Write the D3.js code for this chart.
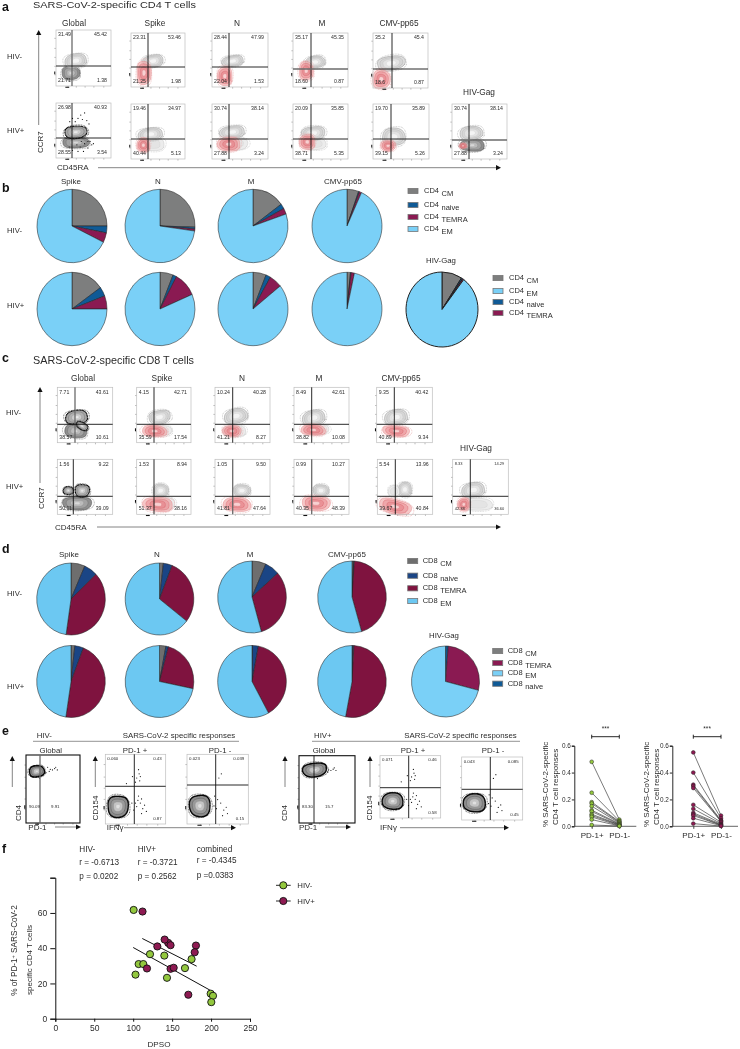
<!DOCTYPE html>
<html>
<head>
<meta charset="utf-8">
<script src="https://cdn.jsdelivr.net/npm/d3@7/dist/d3.min.js"></script>
<style>
html,body{margin:0;padding:0;background:#fff}
svg{display:block;filter:blur(0.3px);background:#fff}
text{font-family:"Liberation Sans",Arial,sans-serif;fill:#2b2b2b}
</style>
</head>
<body>
<svg id="fig" width="740" height="1049" viewBox="0 0 740 1049"></svg>
<script>
// ---------- DATA ----------
const antigens = ["Global","Spike","N","M","CMV-pp65","HIV-Gag"];
const subsetKeys = ["CM","naive","TEMRA","EM"];

// pie percentages, clockwise from 12 o'clock, in subsetKeys order
const pieCD4Neg = [[25.0,3.0,4.3,67.7],[25.5,0.8,0.9,72.8],[14.9,2.2,2.6,80.3],[5.4,0.4,1.0,93.2]];
const pieCD4Pos = [[15.1,4.1,5.8,75.0],[6.1,1.7,10.7,81.5],[6.1,2.2,5.9,85.8],[1.6,0.3,1.5,96.6],[9.1,0.6,0.6,89.7]];
const pieCD8Neg = [[6.6,6.4,39.3,47.7],[1.8,4.2,29.5,64.5],[6.6,6.9,32.1,54.4],[0.8,0.3,44.4,54.5]];
const pieCD8Pos = [[1.8,4.1,46.5,47.6],[3.0,1.2,24.0,71.8],[0.2,2.8,39.0,58.0],[0.3,0.6,52.1,47.0],[0.1,1.2,27.7,71.0]];

// flow quadrant percentages: UL, UR, LL, LR
const quadCD4Neg = [["31.49","45.42","21.71","1.38"],["23.31","53.46","21.25","1.98"],["28.44","47.99","22.04","1.53"],["35.17","45.35","18.60","0.87"],["35.2","45.4","18.6","0.87"]];
const quadCD4Pos = [["26.98","40.93","28.55","3.54"],["19.46","34.97","40.44","5.13"],["30.74","38.14","27.88","3.24"],["20.09","35.85","38.71","5.35"],["19.70","35.89","39.15","5.26"],["30.74","38.14","27.88","3.24"]];
const quadCD8Neg = [["7.71","43.61","38.57","10.61"],["4.15","42.71","35.59","17.54"],["10.24","40.28","41.21","8.27"],["8.49","42.61","38.82","10.08"],["9.35","40.42","40.89","9.34"]];
const quadCD8Pos = [["1.56","9.22","50.11","39.09"],["1.53","8.94","51.37","38.16"],["1.05","9.50","41.81","47.64"],["0.99","10.27","40.35","48.39"],["5.54","13.96","39.67","40.84"],["8.33","14.29","42.38","36.60"]];
const quadPD1 = [["","","90.09","9.91"],["0.060","0.43","","0.87"],["0.023","0.039","","0.15"],["","","83.30","15.7"],["0.071","0.46","","0.58"],["0.043","0.085","","0.45"]];

// flow populations in percent-of-axis units: [kind, cx, cy, rx, ry, tilt]
const blobsCD4Neg = [
 [["d",27,23,16,12,0],["g",36,45,20,12,-8]],
 [["g",41,48,19,11,-8],["r",24,26,13,22,0]],
 [["g",37,48,19,10,-8],["r",23,20,13,18,0]],
 [["g",40,46,18,11,-8],["r",24,30,13,17,0]],
 [["g",33,45,25,13,-10],["r",15,16,16,17,0]]];
const blobsCD4Pos = [
 [["d",36,28,24,10,0],["k",36,47,20,11,-6]],
 [["l",40,27,22,12,0],["g",36,45,23,11,-6],["r",23,25,12,13,0]],
 [["l",42,28,22,11,0],["g",36,49,22,11,-6],["r",30,27,20,13,0]],
 [["l",40,28,20,11,0],["g",37,47,21,12,-6],["r",26,31,14,14,0]],
 [["g",37,40,20,16,-6],["r",27,24,13,10,0]],
 [["d",37,25,22,11,0],["g",35,47,21,12,-6],["r",20,24,7,5,0]]];
const blobsCD8Neg = [
 [["d",33,21,20,12,8],["k",35,46,20,12,-6],["k",45,30,11,6,30]],
 [["l",42,22,22,10,0],["g",42,46,20,12,-10],["r",33,21,23,10,4]],
 [["l",36,21,20,10,0],["g",38,48,21,13,-10],["r",31,21,17,10,4]],
 [["l",42,24,22,9,0],["g",36,45,21,13,-10],["r",35,23,22,10,4]],
 [["g",35,46,21,13,-8],["r",35,21,24,10,4]]];
const blobsCD8Pos = [
 [["d",36,20,26,12,0],["k",45,43,13,11,0],["k",20,43,9,7,0]],
 [["g",44,43,14,12,0],["l",50,20,20,11,0],["r",39,18,27,13,4]],
 [["g",49,43,15,11,0],["r",40,18,25,13,4]],
 [["g",49,43,14,11,0],["r",40,20,26,13,4]],
 [["g",50,45,12,13,0],["l",30,42,10,10,0],["r",32,14,30,13,14]],
 [["g",37,44,21,13,-8],["l",45,18,26,11,0],["r",20,18,11,12,0]]];
const blobsPD1 = [
 [["c",20,76,14,8,-6]],
 [["c",21,25,17,15,0]],
 [["c",21,26,17,15,0]],
 [["c",28,79,21,10,-6]],
 [["c",21,27,17,13,0]],
 [["c",21,27,18,14,0]]];
// event dots outside the contours, percent-of-axis units
const dotsPD1Pos = [[55,78],[56,72],[52,66],[58,68],[50,60],[57,62],[45,68],[35,58],[62,22],[58,30],[54,34],[60,15],[65,27],[55,40],[68,18],[52,25],[47,20],[50,30],[44,30],[60,36]];
const dotsPD1Neg = [[52,66],[56,72],[55,30],[60,20],[64,24],[66,15],[50,35],[45,40],[58,12],[48,22],[44,26]];
const dotsGlobal = [[45,76],[50,73],[54,72],[58,74],[48,70],[42,68],[30,60],[32,63],[36,64],[60,76],[63,72]];
const dotsHivGlobal = [[35,66],[40,72],[45,78],[52,82],[48,70],[56,68],[60,62],[25,66],[30,72],[62,30],[65,24],[58,18],[50,12],[40,12],[30,14],[44,20],[52,26],[58,30],[46,30],[38,24],[24,20],[68,26]];

// paired PD-1 plots (% of SARS-CoV-2-specific CD4 T cell responses)
const pairNegPlus  = [0.48,0.25,0.18,0.17,0.15,0.12,0.11,0.09,0.08,0.07,0.05,0.01];
const pairNegMinus = [0.05,0.04,0.035,0.03,0.025,0.02,0.015,0.012,0.01,0.005,0.003,0.002];
const pairPosPlus  = [0.55,0.40,0.31,0.30,0.285,0.16,0.13,0.10,0.09,0.08,0.06,0.02];
const pairPosMinus = [0.08,0.06,0.045,0.04,0.035,0.03,0.02,0.015,0.01,0.008,0.005,0.002];
const pairLabels = ["PD-1+","PD-1-"];
const pairTicks = [0,0.2,0.4,0.6];

// panel f scatter
const dpsoNeg = [100.6,121.6,140,107,113,103,143.4,166.5,175,199.5,202.5,200.3];
const pd1Neg  = [61.7,36.6,35.8,31,31,25,23.2,28.7,33.8,14.2,13,9.4];
const dpsoPos = [112,145,140.4,148,131,180.6,179,117.7,148,152,170.8];
const pd1Pos  = [60.8,43,44.9,41.7,41,41.5,37.7,28.5,28.3,28.9,13.6];
const fitNeg = [[100,40.4],[198.6,16.2]];
const fitPos = [[111.7,45.5],[181.5,29.8]];
const xTicksF = [0,50,100,150,200,250];
const yTicksF = [0,20,40,60,80];
const statsF = [["HIV-","r = -0.6713","p = 0.0202"],["HIV+","r = -0.3721","p = 0.2562"],["combined","r = -0.4345","p =0.0383"]];

// ---------- LAYOUT ----------
const framesCD4Neg = [[56,111,30,86,72,66,"v"],[131,185,33,87,148,67,""],[212,268,33,87,229,67,""],[293,348,33,87,311,69,"h"],[373,428,33,88,392,69,""]];
const framesCD4Pos = [[56,111,103,158,72,138,""],[131,185,104,159,148,139,""],[212,268,104,159,229,139,""],[293,348,104,159,311,139,""],[373,429,104,159,391,139,""],[452,507,104,159,469,140,"h"]];
const framesCD8Neg = [[57.3,112.7,387.3,442.7,75,424.3,"v"],[136.7,191,387.3,442.7,154,424.3,""],[215,270,387.3,442.7,232.7,424.3,""],[294,349,387.3,442.7,311.7,424.3,""],[376.7,432.3,387.3,442.7,394.3,424.3,""]];
const framesCD8Pos = [[57.3,112.7,459.3,514.3,73.3,496.3,""],[136.7,191,459.3,514.3,154,496.3,""],[215,270,459.3,514.3,232.7,496.3,"v"],[294,349,459.3,514.3,311.7,496.3,"v"],[377.3,432.7,459.3,514.3,395.3,496.3,""],[452.7,508.3,459.3,514.3,470.3,496.3,""]];
const framesPD1 = [[26,80,755,823,40,null,"v"],[105.3,165.7,754.3,824,134.3,786.3,""],[187,248.3,754.3,824,215.7,785,""],[299,355,755.7,823,314,null,""],[380,440.7,755.7,818,408.7,787.7,""],[461.7,522.7,757,820,490.3,789.3,""]];
const tickFrac = [21,36,52,68,86];
const wobble = [1,.98,1.03,1.04,1,.97,.98,1.02,1.05,1.01,.97,.96,1.01,1.03];

const pieColorsA = {CM:"#7d7e7e",naive:"#0f5a96",TEMRA:"#8a1a52",EM:"#7ad0f7"};
const pieColorsB = {CM:"#6e6e6e",naive:"#1a4585",TEMRA:"#7f133f",EM:"#6cc8f2"};

const svg = d3.select("#fig");

function label(x,y,s,o={}){
  const t = svg.append("text").attr("x",x).attr("y",y).text(s)
    .attr("font-size",o.size||8).attr("text-anchor",o.anchor||"start");
  if(o.bold) t.attr("font-weight","bold").style("fill","#111");
  if(o.rot) t.attr("transform",`rotate(-90 ${x} ${y})`);
  return t;
}
function arrow(x1,y1,x2,y2,w){
  const g = svg.append("g");
  const a = Math.atan2(y2-y1,x2-x1), L=5, W=2.6;
  g.append("line").attr("x1",x1).attr("y1",y1).attr("x2",x2-L*Math.cos(a)).attr("y2",y2-L*Math.sin(a))
    .attr("stroke","#666").attr("stroke-width",w||1);
  const pts=[[x2,y2],[x2-L*Math.cos(a)+W*Math.sin(a),y2-L*Math.sin(a)-W*Math.cos(a)],[x2-L*Math.cos(a)-W*Math.sin(a),y2-L*Math.sin(a)+W*Math.cos(a)]];
  g.append("polygon").attr("points",pts.map(p=>p.join(",")).join(" ")).attr("fill","#111");
}

// ---------- FLOW PLOTS ----------
const contour = d3.line().curve(d3.curveCatmullRomClosed);
function outline(RX,RY,s,off){
  return contour(wobble.map((_,i)=>{
    const a=i/wobble.length*2*Math.PI, m=wobble[(i+off)%wobble.length];
    // superellipse-like rounding: contours are squarer than true ellipses
    const c=Math.cos(a),sn=Math.sin(a);
    const ex=Math.sign(c)*Math.pow(Math.abs(c),.8), ey=Math.sign(sn)*Math.pow(Math.abs(sn),.8);
    return [RX*s*m*ex,RY*s*m*ey];
  }));
}
const ringSets={
  g:{halo:"#b5b5b5",rings:[[1,"#dedede","#969696",.5],[.82,"#d6d6d6","#a8a8a8",.35],[.6,"#e3e3e3","#bdbdbd",.3],[.35,"#f4f4f4","#d0d0d0",.3]]},
  l:{halo:"#c9c9c9",rings:[[1,"#ececec","#bcbcbc",.4],[.65,"#e4e4e4","#cccccc",.3]]},
  d:{halo:"#808080",rings:[[1,"#8f8f8f","#505050",.55],[.75,"#a2a2a2","#6a6a6a",.4],[.45,"#bcbcbc","#8a8a8a",.35],[.2,"#d8d8d8","#aaa",.3]]},
  r:{halo:"#eab4b4",rings:[[1,"rgba(240,170,170,.66)","rgba(222,115,120,.8)",.45],[.78,"rgba(234,140,145,.55)","rgba(214,90,98,.85)",.4],[.52,"rgba(230,130,135,.55)","#d5636a",.4],[.26,"rgba(250,220,220,.85)","#d9787d",.35]]},
  k:{halo:"#333",rings:[[1,"#a6a6a6","#0c0c0c",1.3,".1 1.4"],[.74,"#b0b0b0","#6a6a6a",.4],[.45,"#cfcfcf","#969696",.35],[.22,"#e8e8e8","#b0b0b0",.3]]},
  c:{halo:"#222",rings:[[1,"#8c8c8c","#060606",1.6,".1 1.1"],[.72,"#9a9a9a","#555",.45],[.45,"#c4c4c4","#888",.35],[.2,"#e0e0e0","#aaa",.3]]}
};
function drawBlob(g,b,x,y){
  const [kind,cx,cy,rx,ry,tilt]=b;
  const X=x(cx),Y=y(cy),RX=x(rx)-x(0),RY=y(0)-y(ry);
  const off=Math.round(cx+cy)%wobble.length, set=ringSets[kind];
  const n=g.append("g").attr("transform",`translate(${X},${Y}) rotate(${tilt})`);
  n.append("path").attr("d",outline(RX,RY,1.14,(off+3)%wobble.length)).attr("fill","none")
    .attr("stroke",set.halo).attr("stroke-width",.7).attr("stroke-linecap","round").attr("stroke-dasharray",".1 1.5");
  n.selectAll("path.ring").data(set.rings).join("path").attr("class","ring")
    .attr("d",r=>outline(RX,RY,r[0],off))
    .attr("fill",r=>r[1]).attr("stroke",r=>r[2]).attr("stroke-width",r=>r[3])
    .attr("stroke-linecap","round").attr("stroke-dasharray",r=>r[4]||null);
}
function drawFlow(fr,quad,blobs,opt={}){
  const [x0,x1,y0,y1,vx,hy,grey]=fr;
  const x=d3.scaleLinear().domain([0,100]).range([x0,x1]);
  const y=d3.scaleLinear().domain([0,100]).range([y1,y0]);
  const g=svg.append("g");
  blobs.forEach(b=>drawBlob(g,b,x,y));
  (opt.dots||[]).forEach(d=>g.append("circle").attr("cx",x(d[0])).attr("cy",y(d[1])).attr("r",.6).attr("fill",opt.dotColor||"#111"));
  // axis ticks
  const ax=g.append("g").attr("transform",`translate(0,${y1})`).call(d3.axisBottom(x).tickValues(tickFrac).tickSize(1.6).tickFormat(""));
  const ay=g.append("g").attr("transform",`translate(${x0},0)`).call(d3.axisLeft(y).tickValues(tickFrac).tickSize(1.6).tickFormat(""));
  [ax,ay].forEach(a=>{a.select(".domain").remove();a.selectAll("line").attr("stroke","#777").attr("stroke-width",.5);});
  g.append("line").attr("x1",x(17)).attr("x2",x(24)).attr("y1",y1+1.2).attr("y2",y1+1.2).attr("stroke","#111").attr("stroke-width",1.1);
  g.append("line").attr("x1",x0-1.2).attr("x2",x0-1.2).attr("y1",y(21)).attr("y2",y(26)).attr("stroke","#111").attr("stroke-width",1.1);
  // frame + gates
  g.append("rect").attr("x",x0).attr("y",y0).attr("width",x1-x0).attr("height",y1-y0).attr("fill","none")
    .attr("stroke",opt.heavy?"#111":"#bdbdbd").attr("stroke-width",opt.heavy?1.1:.7);
  g.append("line").attr("x1",vx).attr("x2",vx).attr("y1",y0).attr("y2",y1).attr("stroke",grey==="v"?"#6b6b6b":"#111").attr("stroke-width",grey==="v"?1.3:.9);
  if(hy!==null) g.append("line").attr("x1",x0).attr("x2",x1).attr("y1",hy).attr("y2",hy).attr("stroke",grey==="h"?"#6b6b6b":"#111").attr("stroke-width",grey==="h"?1.3:.9);
  // labels
  const fs=opt.fs||5.2;
  const top=y0+fs+1.2, bot=y1-4.2;
  if(opt.midLabels){
    const ly=y0+(y1-y0)*.78;
    label(x0+3,ly,quad[2],{size:fs});
    label(vx+11,ly,quad[3],{size:fs});
    return;
  }
  label(x0+2,top,quad[0],{size:fs});
  label(x1-4,top,quad[1],{size:fs,anchor:"end"});
  if(quad[2]) label(x0+2,bot,quad[2],{size:fs});
  label(x1-4,bot,quad[3],{size:fs,anchor:"end"});
}

// ---------- PIES ----------
function drawPie(cx,cy,rx,ry,vals,colors,sw){
  const arc=d3.arc().innerRadius(0).outerRadius(rx);
  const pie=d3.pie().sort(null).value(d=>d)(vals);
  svg.append("g").attr("transform",`translate(${cx},${cy}) scale(1,${ry/rx})`)
    .selectAll("path").data(pie).join("path")
    .attr("d",arc).attr("fill",(d,i)=>colors[subsetKeys[i]])
    .attr("stroke","#222").attr("stroke-width",sw||.55).attr("vector-effect","non-scaling-stroke");
}
function legend(entries,sx,tx,ys,prefix,colors){
  entries.forEach((k,i)=>{
    svg.append("rect").attr("x",sx).attr("y",ys[i]-2.6).attr("width",10).attr("height",5.2)
      .attr("fill",colors[k]).attr("stroke","#777").attr("stroke-width",.8);
    const t=label(tx,ys[i]+1.8,prefix,{size:7.5});
    t.append("tspan").attr("dx",2.5).attr("dy",3).text(k);
  });
}

// --------- Panel letters / titles ----------
[["a",11.2],["b",192],["c",362],["d",553],["e",735],["f",853]].forEach(([s,y])=>label(2,y,s,{size:12.4,bold:true}));
label(33,7.8,"SARS-CoV-2-specific CD4 T cells",{size:9.9}).attr("textLength",163).attr("lengthAdjust","spacingAndGlyphs");
label(33,364,"SARS-CoV-2-specific CD8 T cells",{size:10.8});

// ---------- Panel a ----------
const hdrX_a=[74,155,237,322,399];
hdrX_a.forEach((x,i)=>label(x,26,antigens[i],{size:8.3,anchor:"middle"}));
label(479,95,antigens[5],{size:8.3,anchor:"middle"});
label(7,59,"HIV-",{size:7.7});label(7,133,"HIV+",{size:7.7});
framesCD4Neg.forEach((f,i)=>drawFlow(f,quadCD4Neg[i],blobsCD4Neg[i]));
framesCD4Pos.forEach((f,i)=>drawFlow(f,quadCD4Pos[i],blobsCD4Pos[i],i===0?{dots:dotsHivGlobal}:{}));
arrow(38.7,125,38.7,30,.8);
label(42.5,153,"CCR7",{size:8,rot:true});
label(57,170,"CD45RA",{size:8});
arrow(98,167.7,501,167.7,.8);

// ---------- Panel b ----------
[[71,"Spike"],[158,"N"],[251,"M"],[343,"CMV-pp65"]].forEach(([x,s])=>label(x,184,s,{size:8,anchor:"middle"}));
label(7,233,"HIV-",{size:7.7});label(7,308,"HIV+",{size:7.7});
const pieX_b=[72,160,253,347];
pieCD4Neg.forEach((v,i)=>drawPie(pieX_b[i],226,35,36.7,v,pieColorsA));
pieCD4Pos.slice(0,4).forEach((v,i)=>drawPie(pieX_b[i],309,35,36.7,v,pieColorsA));
drawPie(442,309.5,36,37.5,pieCD4Pos[4],pieColorsA,1);
label(441,263,"HIV-Gag",{size:7.8,anchor:"middle"});
legend(["CM","naive","TEMRA","EM"],408,424,[191,205,217,229],"CD4",pieColorsA);
legend(["CM","EM","naive","TEMRA"],493,509,[278,291,302,313],"CD4",pieColorsA);

// ---------- Panel c ----------
[83,162,242,319,401].forEach((x,i)=>label(x,381,antigens[i],{size:8.3,anchor:"middle"}));
label(476,451,antigens[5],{size:8.3,anchor:"middle"});
label(6,415,"HIV-",{size:7.7});label(6,489,"HIV+",{size:7.7});
framesCD8Neg.forEach((f,i)=>drawFlow(f,quadCD8Neg[i],blobsCD8Neg[i]));
framesCD8Pos.forEach((f,i)=>drawFlow(f,quadCD8Pos[i],blobsCD8Pos[i],i===5?{fs:4}:{}));
arrow(40,483,40,387,.8);
label(44,509,"CCR7",{size:8,rot:true});
label(55,530,"CD45RA",{size:8});
arrow(97,527,501,527,.8);

// ---------- Panel d ----------
[[69,"Spike"],[157,"N"],[250,"M"],[347,"CMV-pp65"]].forEach(([x,s])=>label(x,557,s,{size:8,anchor:"middle"}));
label(7,596,"HIV-",{size:7.7});label(7,689,"HIV+",{size:7.7});
const pieX_d=[71,159.5,252,352];
const pieY_d=[599,599,597,597];
pieCD8Neg.forEach((v,i)=>drawPie(pieX_d[i],pieY_d[i],34.3,36,v,pieColorsB));
pieCD8Pos.slice(0,4).forEach((v,i)=>drawPie(pieX_d[i],681.5,34.3,36,v,pieColorsB));
drawPie(445.5,681.5,34,35.5,pieCD8Pos[4],pieColorsA);
label(444,638,"HIV-Gag",{size:7.8,anchor:"middle"});
legend(["CM","naive","TEMRA","EM"],407.7,422.7,[561,575.7,588.3,601],"CD8",pieColorsB);
legend(["CM","TEMRA","EM","naive"],492.7,507.7,[651,663,673.3,683.7],"CD8",pieColorsA);

// ---------- Panel e: flow ----------
label(36.7,737.7,"HIV-",{size:7.8});
label(122.7,737.7,"SARS-CoV-2 specific responses",{size:7.85});
svg.append("line").attr("x1",33).attr("x2",239).attr("y1",741.3).attr("y2",741.3).attr("stroke","#666").attr("stroke-width",.7);
label(314,737.7,"HIV+",{size:7.8});
label(404.3,737.7,"SARS-CoV-2 specific responses",{size:7.85});
svg.append("line").attr("x1",312).attr("x2",520).attr("y1",741.3).attr("y2",741.3).attr("stroke","#666").attr("stroke-width",.7);
[[50.7,"Global"],[324,"Global"]].forEach(([x,s])=>label(x,753,s,{size:7.8,anchor:"middle"}));
[[135,"PD-1 +"],[220,"PD-1 -"],[413,"PD-1 +"],[493,"PD-1 -"]].forEach(([x,s])=>label(x,753,s,{size:7.8,anchor:"middle"}));
framesPD1.forEach((f,i)=>{
  const globalPlot=i===0||i===3;
  const opt=globalPlot?{heavy:true,midLabels:true,fs:4.4,dots:dotsGlobal.map(d=>[d[0]-5+(i===3?8:0),d[1]+6])}
                      :{fs:4.4,dots:(i===1||i===4)?dotsPD1Pos:dotsPD1Neg};
  drawFlow(f,quadPD1[i],blobsPD1[i],opt);
});
arrow(12.3,787,12.3,756,.8);
label(20.5,821,"CD4",{size:8,rot:true});
label(28.3,830,"PD-1",{size:8});
arrow(55,827,81,827,.8);
arrow(95.3,787,95.3,756,.8);
label(98,820.5,"CD154",{size:8,rot:true});
label(106.7,830,"IFNγ",{size:8});
arrow(124,827.7,236,827.7,.8);
arrow(285,787,285,756,.8);
label(287,821,"CD4",{size:8,rot:true});
label(299,830,"PD-1",{size:8});
arrow(325,827,351,827,.8);
arrow(370,787,370,756,.8);
label(372,820.5,"CD154",{size:8,rot:true});
label(380,830,"IFNγ",{size:8});
arrow(400,827.7,509,827.7,.8);

// ---------- Panel e: paired ----------
function drawPaired(axX,xA,xB,plus,minus,color,labX){
  const y=d3.scaleLinear().domain([0,0.6]).range([826.3,745.7]);
  const x=d3.scalePoint().domain(pairLabels).range([xA,xB]);
  const g=svg.append("g");
  const ya=g.append("g").attr("transform",`translate(${axX},0)`).call(d3.axisLeft(y).tickValues(pairTicks).tickSize(2.5).tickFormat(d3.format(".1f")));
  ya.selectAll("text").attr("font-size",6.4).attr("x",-3.5).style("font-family",'"Liberation Sans"');
  ya.selectAll("line,.domain").attr("stroke","#111").attr("stroke-width",.9);
  const xa=g.append("g").attr("transform","translate(0,826.3)").call(d3.axisBottom(x).tickSize(2.5));
  xa.select(".domain").attr("d",`M${axX},0H${xB+17}`).attr("stroke","#555").attr("stroke-width",.9);
  xa.selectAll("line").attr("stroke","#111").attr("stroke-width",.8);
  xa.selectAll("text").attr("font-size",8).attr("y",6.5).style("font-family",'"Liberation Sans"');
  plus.forEach((v,i)=>g.append("line").attr("x1",x(pairLabels[0])).attr("x2",x(pairLabels[1])).attr("y1",y(v)).attr("y2",y(minus[i])).attr("stroke","#222").attr("stroke-width",.6));
  [[pairLabels[0],plus],[pairLabels[1],minus]].forEach(([k,arr])=>
    g.selectAll(null).data(arr).join("circle").attr("cx",x(k)).attr("cy",d=>y(d)).attr("r",1.9)
      .attr("fill",color).attr("stroke","#222").attr("stroke-width",.5));
  g.append("path").attr("d",`M${xA},734.7V738.7M${xA},736.7H${xB}M${xB},734.7V738.7`).attr("fill","none").attr("stroke","#111").attr("stroke-width",.9);
  label((xA+xB)/2,731,"***",{size:6.5,anchor:"middle"});
  label(labX,827,"% SARS-CoV-2-specific",{size:8,rot:true});
  label(labX+10,825,"CD4 T cell responses",{size:8,rot:true});
}
drawPaired(574.3,591.7,619.3,pairNegPlus,pairNegMinus,"#93c83e",547.5);
drawPaired(672.3,693.3,721,pairPosPlus,pairPosMinus,"#8e1a52",649);

// ---------- Panel f ----------
const xF=d3.scaleLinear().domain([0,250]).range([55.3,250]);
const yF=d3.scaleLinear().domain([0,80]).range([1018.7,877.7]);
const gF=svg.append("g");
const xaF=gF.append("g").attr("transform","translate(0,1018.7)").call(d3.axisBottom(xF).tickValues(xTicksF).tickSize(3));
const yaF=gF.append("g").attr("transform","translate(55.3,0)").call(d3.axisLeft(yF).tickValues(yTicksF).tickSize(5).tickFormat(d=>d===80?"":d));
[xaF,yaF].forEach(a=>{a.selectAll("line,.domain").attr("stroke","#111").attr("stroke-width",1);a.selectAll("text").attr("font-size",8.5).style("font-family",'"Liberation Sans"');});
[fitNeg,fitPos].forEach(seg=>gF.append("path").attr("d",d3.line().x(d=>xF(d[0])).y(d=>yF(d[1]))(seg)).attr("stroke","#111").attr("stroke-width",1).attr("fill","none"));
gF.selectAll(".n").data(d3.zip(dpsoNeg,pd1Neg)).join("circle").attr("class","n").attr("cx",d=>xF(d[0])).attr("cy",d=>yF(d[1])).attr("r",3.6).attr("fill","#93c83e").attr("stroke","#111").attr("stroke-width",.9);
gF.selectAll(".p").data(d3.zip(dpsoPos,pd1Pos)).join("circle").attr("class","p").attr("cx",d=>xF(d[0])).attr("cy",d=>yF(d[1])).attr("r",3.6).attr("fill","#8e1a52").attr("stroke","#111").attr("stroke-width",.9);
label(159,1047.3,"DPSO",{size:8.1,anchor:"middle"});
const yl=label(17,995.7,"% of PD-1",{size:8.2,rot:true});
yl.append("tspan").attr("dy",-2).attr("font-size",5.5).text("+");
yl.append("tspan").attr("dy",2).text(" SARS-CoV-2");
label(32,995,"specific CD4 T cells",{size:8,rot:true});
[79.3,137.7,196.7].forEach((x,i)=>{
  const ys=i===2?[852,863,878]:[852.3,865,879.3];
  statsF[i].forEach((s,j)=>label(x,ys[j],s,{size:8.2}));
});
[["HIV-","#93c83e",885.3],["HIV+","#8e1a52",901]].forEach(([s,c,y])=>{
  gF.append("line").attr("x1",276).attr("x2",290.7).attr("y1",y).attr("y2",y).attr("stroke","#111").attr("stroke-width",.9);
  gF.append("circle").attr("cx",283.3).attr("cy",y).attr("r",3.6).attr("fill",c).attr("stroke","#111").attr("stroke-width",.9);
  label(297.3,y+2.7,s,{size:7.8});
});
</script>
</body>
</html>
